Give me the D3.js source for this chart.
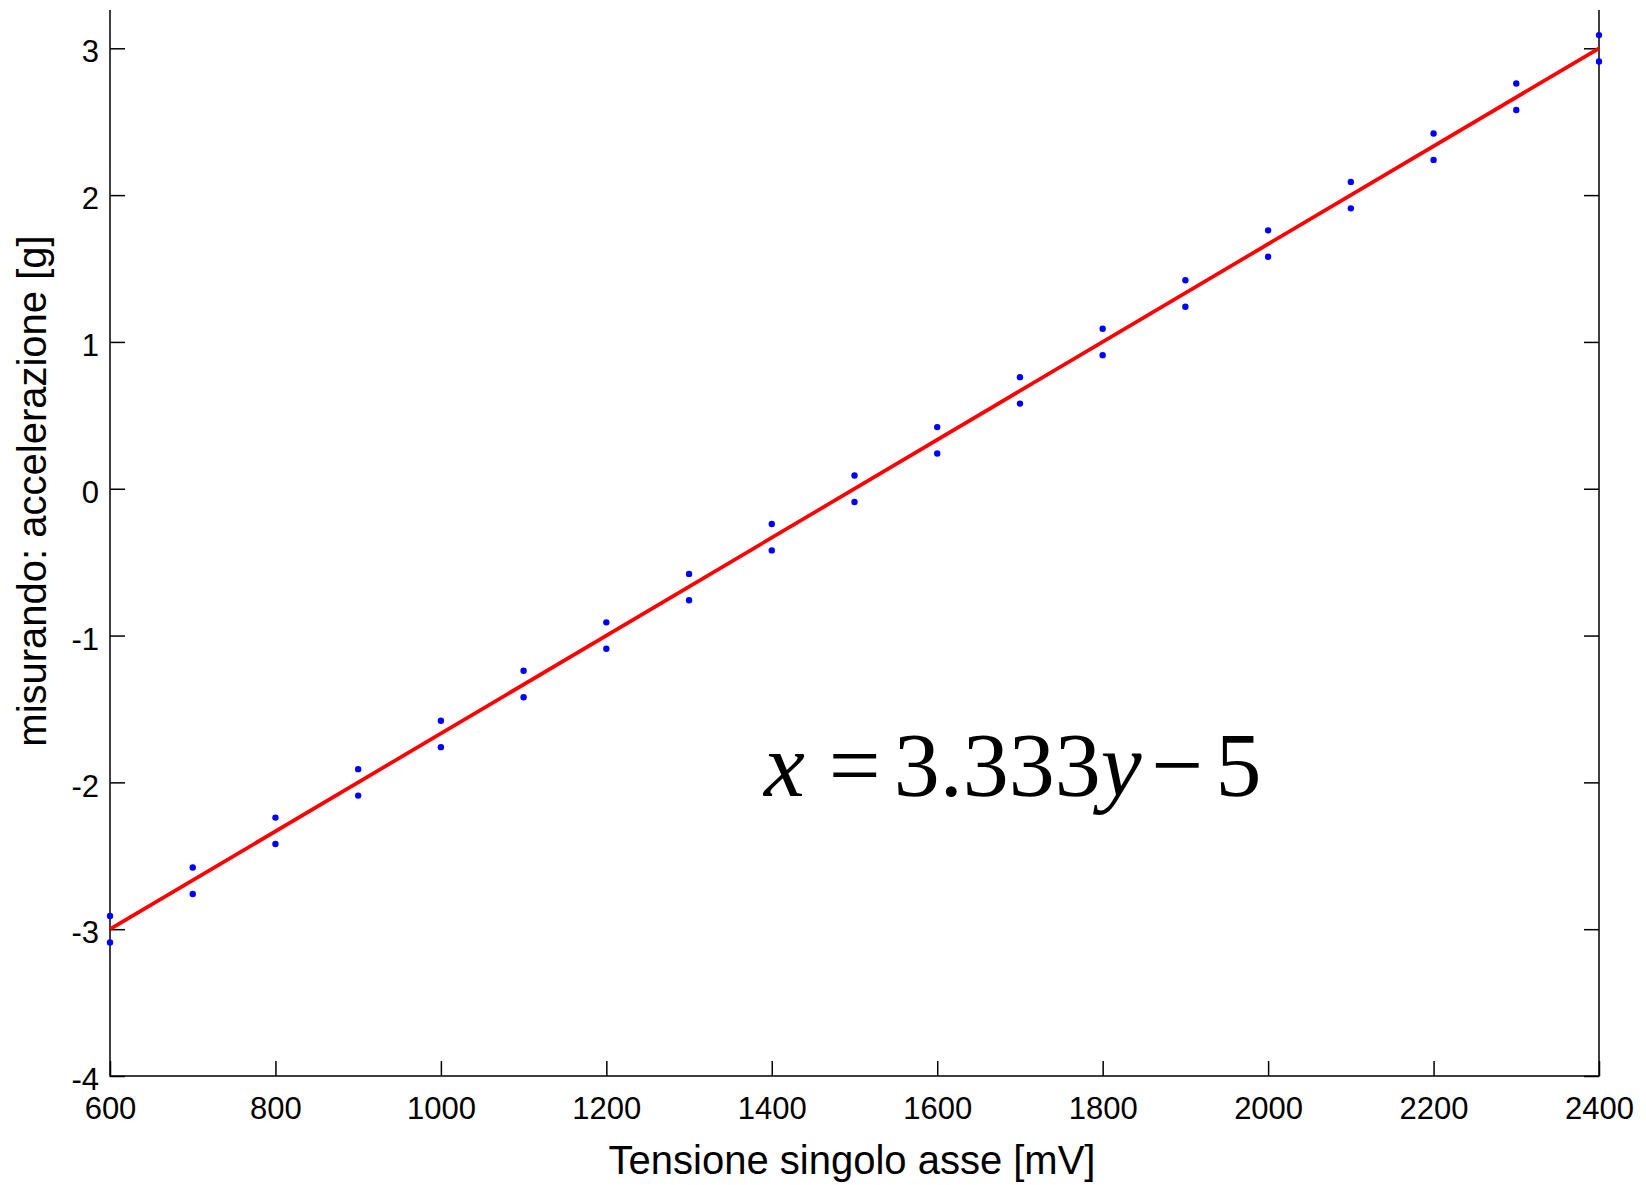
<!DOCTYPE html>
<html>
<head>
<meta charset="utf-8">
<script src="https://cdn.jsdelivr.net/npm/d3@7"></script>
<style>
  body { margin: 0; background: #fff; }
  svg { display: block; }
</style>
</head>
<body>
<div id="chart"></div>
<script>
// tension (mV) and measured acceleration (g), two readings per step
const tension = [600, 700, 800, 900, 1000, 1100, 1200, 1300, 1400, 1500,
                 1600, 1700, 1800, 1900, 2000, 2100, 2200, 2300, 2400];
const accHigh = [-2.91, -2.58, -2.24, -1.91, -1.58, -1.24, -0.91, -0.58, -0.24, 0.09,
                 0.42, 0.76, 1.09, 1.42, 1.76, 2.09, 2.42, 2.76, 3.09];
const accLow  = [-3.09, -2.76, -2.42, -2.09, -1.76, -1.42, -1.09, -0.76, -0.42, -0.09,
                 0.24, 0.58, 0.91, 1.24, 1.58, 1.91, 2.24, 2.58, 2.91];
// fitted line
const fitX = [600, 2400];
const fitY = [-3, 3];
const xTicks = [600, 800, 1000, 1200, 1400, 1600, 1800, 2000, 2200, 2400];
const yTicks = [-4, -3, -2, -1, 0, 1, 2, 3];

const width = 1646, height = 1185;
const left = 110, right = 1599, bottom = 1076, topLine = 10;
const font = "'Liberation Sans', Arial, Helvetica, sans-serif";

const svg = d3.select("#chart")
    .append("svg")
    .attr("width", width)
    .attr("height", height);

const x = d3.scaleLinear().domain([600, 2400]).range([left, right]);
const y = d3.scaleLinear().domain([-4, 3]).range([bottom, 48.3]);

// axes with inward ticks
const xAxis = svg.append("g")
    .attr("transform", `translate(0,${bottom})`)
    .call(d3.axisBottom(x).tickValues(xTicks).tickSize(-15).tickSizeOuter(0)
        .tickPadding(21).tickFormat(d => String(d)));

const yAxis = svg.append("g")
    .attr("transform", `translate(${left},0)`)
    .call(d3.axisLeft(y).tickValues(yTicks).tickSize(-15).tickSizeOuter(0)
        .tickPadding(11).tickFormat(d => String(d)));

const yAxisR = svg.append("g")
    .attr("transform", `translate(${right},0)`)
    .call(d3.axisRight(y).tickValues(yTicks).tickSize(-15).tickSizeOuter(0)
        .tickFormat(""));

[xAxis, yAxis, yAxisR].forEach(g => {
    g.select(".domain").remove();
    g.selectAll(".tick line").attr("stroke", "#000").attr("stroke-width", 1.5);
    g.selectAll("text")
        .attr("font-family", font)
        .attr("font-size", 31)
        .attr("fill", "#000");
});
yAxis.selectAll("text").attr("dy", "0.44em");

// frame: left, bottom, right
svg.append("path")
    .attr("d", `M${left},${topLine}V${bottom}H${right}V${topLine}`)
    .attr("fill", "none")
    .attr("stroke", "#000")
    .attr("stroke-width", 1.5);

// fitted line
const line = d3.line().x(d => x(d[0])).y(d => y(d[1]));
svg.append("path")
    .datum(d3.zip(fitX, fitY))
    .attr("d", line)
    .attr("fill", "none")
    .attr("stroke", "#ff0000")
    .attr("stroke-width", 3.7);

// measured points
const points = d3.zip(tension, accHigh).concat(d3.zip(tension, accLow));
svg.append("g")
    .selectAll("circle")
    .data(points)
    .join("circle")
    .attr("cx", d => x(d[0]))
    .attr("cy", d => y(d[1]))
    .attr("r", 3.2)
    .attr("fill", "#0000ff");

// axis labels
svg.append("text")
    .attr("x", 852)
    .attr("y", 1174)
    .attr("text-anchor", "middle")
    .attr("font-family", font)
    .attr("font-size", 40)
    .text("Tensione singolo asse [mV]");

svg.append("text")
    .attr("transform", "translate(46,491) rotate(-90)")
    .attr("text-anchor", "middle")
    .attr("font-family", font)
    .attr("font-size", 40)
    .text("misurando: accelerazione [g]");

// equation
const eq = svg.append("text")
    .attr("x", 764)
    .attr("y", 796)
    .attr("font-family", "'Liberation Serif', 'Times New Roman', serif")
    .attr("font-size", 92);
eq.append("tspan").attr("font-style", "italic").text("x");
eq.append("tspan").attr("dx", 24).text("=");
eq.append("tspan").attr("dx", 13).text("3.333");
eq.append("tspan").attr("font-style", "italic").text("y");
eq.append("tspan").attr("dx", 10).text("\u2212");
eq.append("tspan").attr("dx", 12).text("5");
</script>
</body>
</html>
